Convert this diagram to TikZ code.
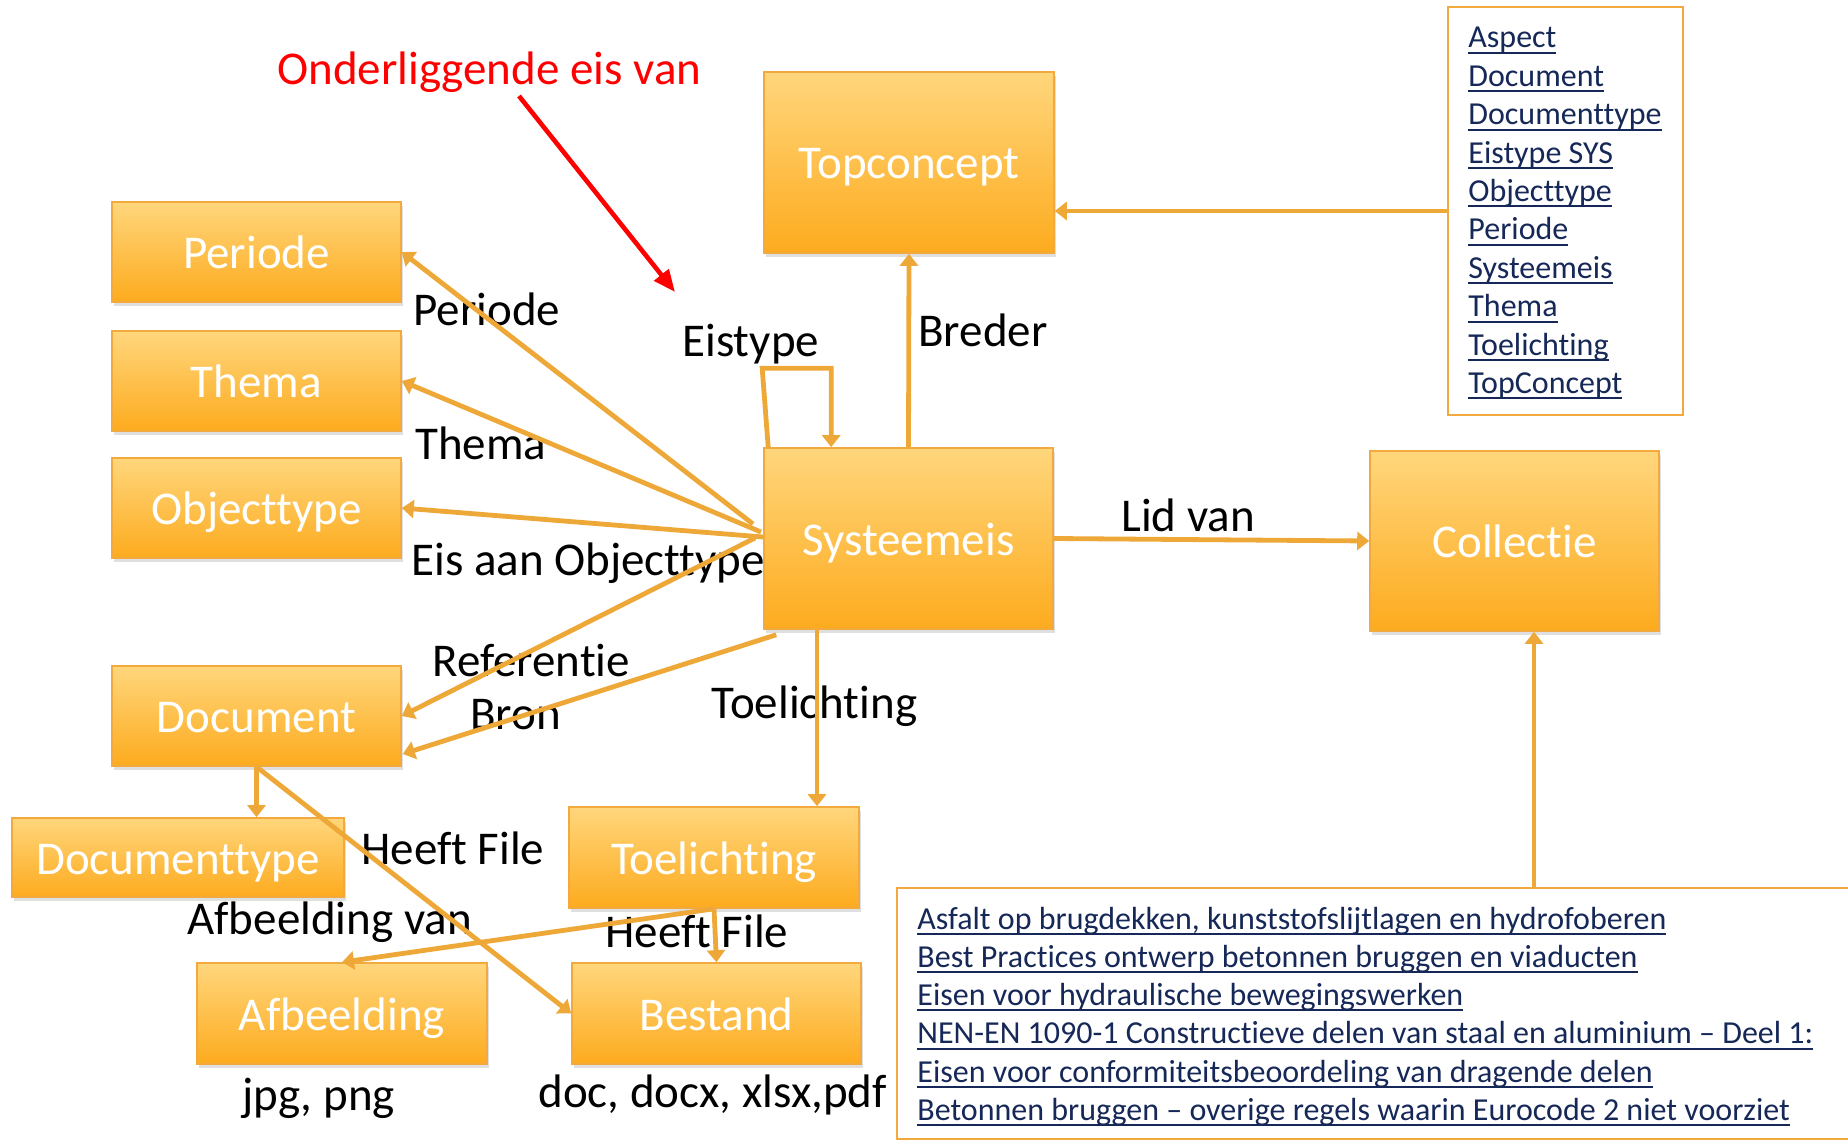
\documentclass[tikz,border=0pt]{standalone}
\usepackage{fontspec}
\setmainfont{Carlito}[Ligatures=CommonOff]
\usetikzlibrary{arrows.meta,shadows,calc}

\definecolor{conn}{RGB}{237,168,56}
\definecolor{boxtop}{RGB}{255,214,124}
\definecolor{boxbot}{RGB}{253,171,30}
\definecolor{boxline}{RGB}{242,170,62}
\definecolor{linkblue}{RGB}{22,40,88}

% underlined hyperlink-style entry
\newcommand\lnk[1]{\setbox0=\hbox{#1}\rlap{\vrule width\wd0 height -1.9pt depth 2.9pt}\box0}

\tikzset{
  concept/.style={draw=boxline, line width=0.8pt, top color=boxtop, bottom color=boxbot,
    text=white, font=\fontsize{23.5}{28}\selectfont, text height=16.5pt, text depth=0pt,
    inner sep=0pt, drop shadow={shadow xshift=1.2pt, shadow yshift=-2.2pt, opacity=0.25}},
  link/.style={draw=conn, line width=2.4pt, -{Triangle[length=6pt,width=9pt]}},
  lbl/.style={font=\fontsize{23.5}{28}\selectfont, inner sep=0pt, anchor=base west},
  listframe/.style={draw=boxline, line width=0.9pt, inner sep=0pt},
  listitem/.style={font=\fontsize{16}{19}\selectfont, text=linkblue, inner sep=0pt, anchor=base west},
}

\begin{document}
\begin{tikzpicture}[x=0.5pt,y=-0.5pt]
\fill[white] (0,0) rectangle (1848,1144);
\useasboundingbox (0,0) rectangle (1848,1144);

% concept boxes
\node[concept, minimum width=144.5pt, minimum height=50pt] (per)   at (256.5,252)    {Periode};
\node[concept, minimum width=144.5pt, minimum height=50pt] (thema) at (256.5,381)    {Thema};
\node[concept, minimum width=144.5pt, minimum height=50pt] (obj)   at (256.5,508)    {Objecttype};
\node[concept, minimum width=144.5pt, minimum height=50pt] (doc)   at (256.5,716)    {Document};
\node[concept, minimum width=166pt,   minimum height=39.5pt] (dtype) at (178,857.5)  {Documenttype};
\node[concept, minimum width=145pt,   minimum height=50.5pt] (toel)  at (714,857.5)  {Toelichting};
\node[concept, minimum width=145pt,   minimum height=50.5pt] (afb)   at (342,1013.5) {Afbeelding};
\node[concept, minimum width=144.5pt, minimum height=50.5pt] (best)  at (716.5,1013.5) {Bestand};
\node[concept, minimum width=145pt,   minimum height=90.5pt] (top)   at (909,162.5)  {Topconcept};
\node[concept, minimum width=144.5pt, minimum height=90.5pt] (sys)   at (908.5,538.5) {Systeemeis};
\node[concept, minimum width=144.5pt, minimum height=90pt]   (col)   at (1514.5,541) {Collectie};

% list of concept schemes
\node[listframe, minimum width=117.5pt, minimum height=204pt] (tlist) at (1565.5,211) {};
\foreach \t [count=\i] in {Aspect,Document,Documenttype,Eistype SYS,Objecttype,Periode,Systeemeis,Thema,Toelichting,TopConcept}
  \node[listitem] (tl-\i) at (1468,{48+38.4*(\i-1)}) {\lnk{\t}};

% list of collections
\node[listframe, minimum width=486.5pt, minimum height=125.5pt] (blist) at (1383.5,1013.5) {};
\foreach \t [count=\i] in {{Asfalt op brugdekken, kunststofslijtlagen en hydrofoberen},
    {Best Practices ontwerp betonnen bruggen en viaducten},
    {Eisen voor hydraulische bewegingswerken},
    {NEN-EN 1090-1 Constructieve delen van staal en aluminium – Deel 1:},
    {Eisen voor conformiteitsbeoordeling van dragende delen},
    {Betonnen bruggen – overige regels waarin Eurocode 2 niet voorziet}}
  \node[listitem] (bl-\i) at (917,{929+38.3*(\i-1)}) {\lnk{\t}};

% relation labels
\node[lbl, text=red] (lred) at (277,85) {Onderliggende eis van};
\node[lbl] (lperiode) at (413,326) {Periode};
\node[lbl] (lthema)   at (415,460) {Thema};
\node[lbl] (leis)     at (411,575) {Eis aan Objecttype};
\node[lbl] (leistype) at (682,357) {Eistype};
\node[lbl] (lbreder)  at (918,347) {Breder};
\node[lbl] (lref)     at (432,676) {Referentie};
\node[lbl] (lbron)    at (470,729) {Bron};
\node[lbl] (ltoel)    at (711,718) {Toelichting};
\node[lbl] (lhf1)     at (361,864) {Heeft File};
\node[lbl] (lafbv)    at (187,934) {Afbeelding van};
\node[lbl] (lhf2)     at (605,947) {Heeft File};
\node[lbl] (ljpg)     at (242,1110) {jpg, png};
\node[lbl] (ldoc)     at (538,1107) {doc, docx, xlsx,pdf};
\node[lbl] (llid)     at (1121,531) {Lid van};

% connector end points
\coordinate (ra) at (519,96);
\coordinate (rb) at (675,292);
\coordinate (fP) at (753,524);
\coordinate (fT) at (761,532);
\coordinate (fO) at (763,537);
\coordinate (fR) at (755,538);
\coordinate (tx) at (817,0);
\coordinate (cb) at (1534,888);

% connectors
\draw[red, line width=2.3pt, -{Triangle[length=11pt,width=9pt]}] (ra) -- (rb);
\draw[link] (fP) -- (per.east);
\draw[link] (fT) -- (thema.east);
\draw[link] (fO) -- (obj.east);
\draw[link] (fR) -- (doc.east);
\draw[link] ($(sys.south west)+(13,5)$) -- ($(doc.east)+(1,38)$);
\draw[link] ($(sys.north west)+(5,0)$) -- ++(-6,-79) -| ($(sys.north west)+(68,0)$);
\draw[link] (sys.north) -- (top.south);
\draw[link] (tlist.west) -- (tlist.west -| top.east);
\draw[link] (sys.east) -- (col.west);
\draw[link] (cb) -- (cb |- col.south);
\draw[link] (sys.south -| tx) -- (toel.north -| tx);
\draw[link] (doc.south) -- (doc.south |- dtype.north);
\draw[link] (doc.south) -- (best.west);
\draw[link] (toel.south) -- (afb.north);
\draw[link] (toel.south) -- (best.north);
\end{tikzpicture}
\end{document}
